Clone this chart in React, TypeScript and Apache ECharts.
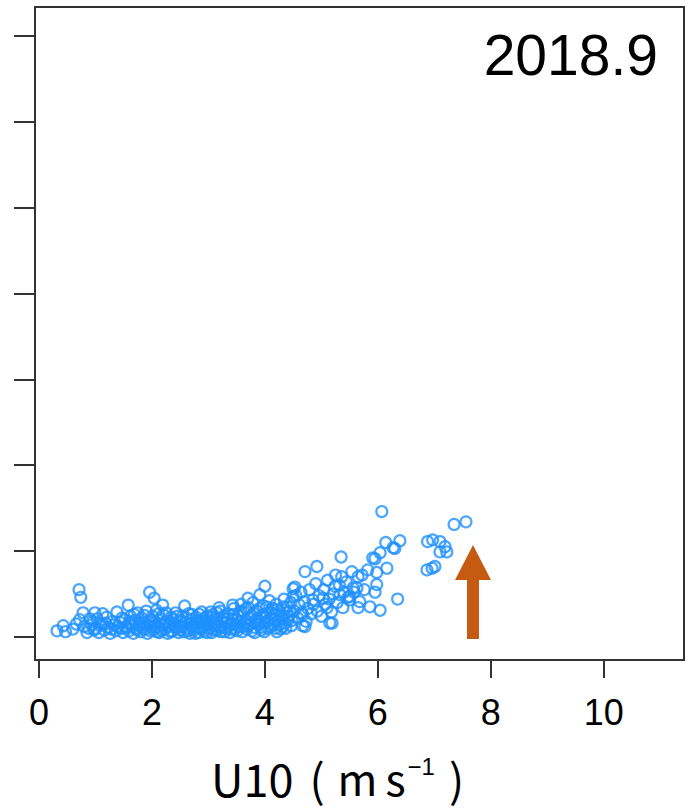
import React, { useEffect, useRef } from "react";
import * as echarts from "echarts";

// Tick values
const xTicks = [0, 2, 4, 6, 8, 10];
const yTicks = [0, 1, 2, 3, 4, 5, 6, 7];

// Scatter points [U10, value]
const leftPoints: number[][] = [
  [0.32, 0.07], [0.43, 0.13], [0.47, 0.06], [0.6, 0.09], [0.66, 0.15], [0.71, 0.55], [0.74, 0.46],
  [0.78, 0.28], [0.8, 0.12], [0.85, 0.05], [0.9, 0.21], [0.93, 0.14], [0.99, 0.28], [0.98, 0.08],
  [0.72, 0.2], [0.88, 0.1], [0.95, 0.18],
];
const bandPoints: number[][] = [
  [1.0, 0.1], [1.03, 0.21], [1.06, 0.05], [1.1, 0.15], [1.13, 0.27], [1.16, 0.08], [1.2, 0.23],
  [1.23, 0.11], [1.26, 0.04], [1.3, 0.18], [1.33, 0.14], [1.36, 0.07], [1.38, 0.29], [1.43, 0.17],
  [1.46, 0.1], [1.49, 0.05], [1.52, 0.2], [1.54, 0.12], [1.58, 0.37], [1.59, 0.07], [1.62, 0.24],
  [1.64, 0.15], [1.67, 0.04], [1.7, 0.19], [1.72, 0.1], [1.75, 0.28], [1.77, 0.13], [1.8, 0.06],
  [1.82, 0.22], [1.85, 0.16], [1.88, 0.09], [1.9, 0.3], [1.92, 0.04], [1.94, 0.18], [1.96, 0.52],
  [1.98, 0.12], [2.01, 0.24], [2.03, 0.08], [2.04, 0.45], [2.06, 0.17], [2.08, 0.31], [2.1, 0.11],
  [2.13, 0.05], [2.15, 0.21], [2.19, 0.37], [2.18, 0.14], [2.2, 0.26], [2.23, 0.09], [2.26, 0.18],
  [2.28, 0.04], [2.31, 0.12], [2.34, 0.23], [2.36, 0.07], [2.39, 0.16], [2.42, 0.28], [2.44, 0.1],
  [2.47, 0.05], [2.49, 0.19], [2.52, 0.13], [2.54, 0.24], [2.57, 0.06], [2.58, 0.36], [2.6, 0.17],
  [2.62, 0.1], [2.65, 0.27], [2.67, 0.04], [2.7, 0.2], [2.72, 0.13], [2.75, 0.08], [2.78, 0.23],
  [2.8, 0.16], [2.83, 0.05], [2.85, 0.11], [2.88, 0.29], [2.9, 0.19], [2.93, 0.07], [2.95, 0.14],
  [2.98, 0.24], [3.01, 0.1], [3.04, 0.29], [3.03, 0.18], [3.06, 0.05], [3.08, 0.26], [3.11, 0.13],
  [3.14, 0.21], [3.16, 0.08], [3.19, 0.34], [3.21, 0.3], [3.24, 0.11], [3.27, 0.22], [3.29, 0.06],
  [3.32, 0.17], [3.35, 0.27], [3.37, 0.13], [3.4, 0.09], [3.42, 0.2], [3.43, 0.37], [3.45, 0.33],
  [3.48, 0.15], [3.51, 0.07], [3.53, 0.24], [3.56, 0.18], [3.58, 0.38], [3.61, 0.12], [3.63, 0.29],
  [3.66, 0.2], [3.68, 0.09], [3.7, 0.45], [3.71, 0.34], [3.74, 0.15], [3.76, 0.25], [3.79, 0.4],
  [3.81, 0.11], [3.82, 0.05], [3.84, 0.19], [3.86, 0.3], [3.89, 0.14], [3.91, 0.49], [3.92, 0.23],
  [3.94, 0.08], [3.97, 0.36], [4.0, 0.59], [4.0, 0.17], [4.02, 0.27], [4.05, 0.1], [4.08, 0.42],
  [4.1, 0.21], [4.13, 0.33], [4.15, 0.14], [4.18, 0.25], [4.21, 0.06], [4.2, 0.38], [4.23, 0.18],
  [4.26, 0.3], [4.28, 0.09], [4.31, 0.22], [4.32, 0.12], [4.34, 0.44], [4.36, 0.16], [4.39, 0.28],
  [4.4, 0.35], [4.43, 0.24], [4.46, 0.4], [4.48, 0.19],
];
const bandPointsExtra: number[][] = [
  [1.08, 0.13], [1.18, 0.16], [1.28, 0.09], [1.4, 0.12], [1.47, 0.22], [1.56, 0.1], [1.61, 0.17],
  [1.69, 0.26], [1.74, 0.08], [1.79, 0.16], [1.84, 0.11], [1.87, 0.25], [1.91, 0.14], [1.97, 0.07],
  [2.0, 0.19], [2.05, 0.13], [2.09, 0.06], [2.12, 0.27], [2.17, 0.08], [2.22, 0.16], [2.25, 0.28],
  [2.29, 0.14], [2.33, 0.06], [2.37, 0.2], [2.41, 0.12], [2.45, 0.24], [2.5, 0.08], [2.53, 0.18],
  [2.56, 0.11], [2.61, 0.22], [2.64, 0.07], [2.68, 0.15], [2.71, 0.26], [2.74, 0.11], [2.77, 0.04],
  [2.81, 0.19], [2.84, 0.26], [2.87, 0.09], [2.91, 0.12], [2.94, 0.22], [2.97, 0.05], [3.0, 0.15],
  [3.05, 0.23], [3.09, 0.08], [3.12, 0.17], [3.15, 0.28], [3.18, 0.12], [3.22, 0.06], [3.25, 0.18],
  [3.28, 0.25], [3.31, 0.1], [3.34, 0.21], [3.38, 0.05], [3.41, 0.15], [3.44, 0.26], [3.47, 0.09],
  [3.5, 0.2], [3.54, 0.12], [3.57, 0.3], [3.6, 0.06], [3.64, 0.16], [3.67, 0.33], [3.7, 0.13],
  [3.73, 0.22], [3.77, 0.07], [3.8, 0.27], [3.83, 0.16], [3.87, 0.21], [3.9, 0.33], [3.93, 0.11],
  [3.96, 0.25], [3.99, 0.06], [4.03, 0.35], [4.06, 0.19], [4.09, 0.12], [4.12, 0.28], [4.16, 0.2],
  [4.19, 0.1], [4.22, 0.32], [4.25, 0.14], [4.29, 0.25], [4.33, 0.35], [4.37, 0.1], [4.41, 0.2],
  [4.44, 0.3], [4.47, 0.13],
];
const risePoints: number[][] = [
  [4.5, 0.56], [4.5, 0.47], [4.52, 0.3], [4.53, 0.58], [4.55, 0.48], [4.58, 0.22], [4.61, 0.37],
  [4.64, 0.52], [4.65, 0.28], [4.67, 0.13], [4.67, 0.26], [4.7, 0.41], [4.71, 0.76], [4.71, 0.12],
  [4.73, 0.18], [4.76, 0.33], [4.79, 0.55], [4.82, 0.27], [4.85, 0.43], [4.86, 0.38], [4.92, 0.82],
  [4.9, 0.62], [4.93, 0.3], [4.96, 0.48], [5.0, 0.24], [5.03, 0.45], [5.04, 0.55], [5.07, 0.38],
  [5.1, 0.34], [5.11, 0.66], [5.14, 0.44], [5.15, 0.16], [5.19, 0.16], [5.18, 0.29], [5.21, 0.5],
  [5.24, 0.59], [5.25, 0.72], [5.28, 0.4], [5.32, 0.6], [5.33, 0.49], [5.35, 0.93], [5.36, 0.7],
  [5.38, 0.34], [5.4, 0.52], [5.44, 0.64], [5.47, 0.46], [5.5, 0.43], [5.5, 0.47], [5.54, 0.76],
  [5.56, 0.57], [5.58, 0.52], [5.63, 0.57], [5.65, 0.7], [5.65, 0.34], [5.68, 0.41], [5.72, 0.72],
  [5.76, 0.55], [5.82, 0.78], [5.86, 0.35], [5.91, 0.92], [5.95, 0.52], [5.95, 0.91], [5.98, 0.75],
  [5.98, 0.61], [6.04, 0.98], [6.04, 0.31], [6.07, 1.46], [6.14, 1.1], [6.16, 0.8], [6.27, 1.04],
  [6.3, 1.03], [6.35, 0.44], [6.39, 1.12],
];
const highPoints: number[][] = [
  [6.87, 0.78], [6.96, 0.8], [7.01, 0.82], [6.88, 1.11], [6.97, 1.13], [7.1, 1.11], [7.19, 1.05],
  [7.1, 0.99], [7.22, 0.99], [7.35, 1.31], [7.56, 1.34],
];

const allPoints = [...leftPoints, ...bandPoints, ...bandPointsExtra, ...risePoints, ...highPoints];

export default function App() {
  const ref = useRef<HTMLDivElement>(null);
  useEffect(() => {
    if (!ref.current) return;
    const chart = echarts.init(ref.current, null, { renderer: "svg" });
    const ff = "Noto Sans CJK JP";
    chart.setOption({
      animation: false,
      backgroundColor: "#ffffff",
      grid: {
        left: 35,
        right: 8,
        top: 7,
        bottom: 148,
        show: true,
        borderColor: "#333",
        borderWidth: 2,
        backgroundColor: "transparent",
      },
      xAxis: {
        type: "value",
        min: -0.07,
        max: 11.42,
        splitLine: { show: false },
        axisLine: { show: false, onZero: false },
        axisTick: {
          show: true,
          length: 18,
          customValues: xTicks,
          lineStyle: { color: "#333", width: 2 },
        },
        axisLabel: {
          show: true,
          customValues: xTicks,
          margin: 34,
          fontSize: 36,
          fontFamily: "Liberation Sans",
          color: "#000",
        },
      },
      yAxis: {
        type: "value",
        min: -0.27,
        max: 7.34,
        splitLine: { show: false },
        axisLine: { show: false, onZero: false },
        axisTick: {
          show: true,
          length: 21,
          customValues: yTicks,
          lineStyle: { color: "#333", width: 2 },
        },
        axisLabel: { show: false, customValues: yTicks },
      },
      graphic: [
        {
          type: "text",
          right: 692 - 658,
          top: 26,
          style: {
            text: "2018.9",
            font: '57px "Liberation Sans"',
            fill: "#000",
          },
        },
        {
          type: "text",
          x: 211,
          y: 777,
          style: {
            text: "{u|U10}{p|(}{m|m}{s|s}{b|−1}{q|)}",
            align: "left",
            verticalAlign: "middle",
            rich: {
              u: { fontSize: 45, fontFamily: ff, fill: "#000", lineHeight: 64 },
              p: { fontSize: 45, fontFamily: ff, fill: "#000", lineHeight: 64, padding: [0, 13, 0, 16] },
              m: { fontSize: 43, fontFamily: ff, fill: "#000", lineHeight: 64 },
              s: { fontSize: 43, fontFamily: ff, fill: "#000", lineHeight: 64, padding: [0, 0, 0, 8] },
              b: { fontSize: 24, fontFamily: "Liberation Sans", fill: "#000", lineHeight: 64, padding: [0, 0, 22, 2] },
              q: { fontSize: 45, fontFamily: ff, fill: "#000", lineHeight: 64, padding: [0, 0, 0, 14] },
            },
          },
        },
        {
          type: "polygon",
          shape: {
            points: [
              [473, 545],
              [491, 580],
              [479, 580],
              [479, 639],
              [467, 639],
              [467, 580],
              [455, 580],
            ],
          },
          style: { fill: "#C55A11" },
        },
      ],
      series: [
        {
          type: "scatter",
          data: allPoints,
          symbol: "circle",
          symbolSize: 11,
          itemStyle: {
            color: "rgba(0,0,0,0)",
            borderColor: "#1E90FF",
            borderWidth: 2.2,
          },
        },
      ],
    });
    return () => chart.dispose();
  }, []);
  return (
    <div
      ref={ref}
      style={{ position: "fixed", left: 0, top: 0, width: 692, height: 808 }}
    />
  );
}
